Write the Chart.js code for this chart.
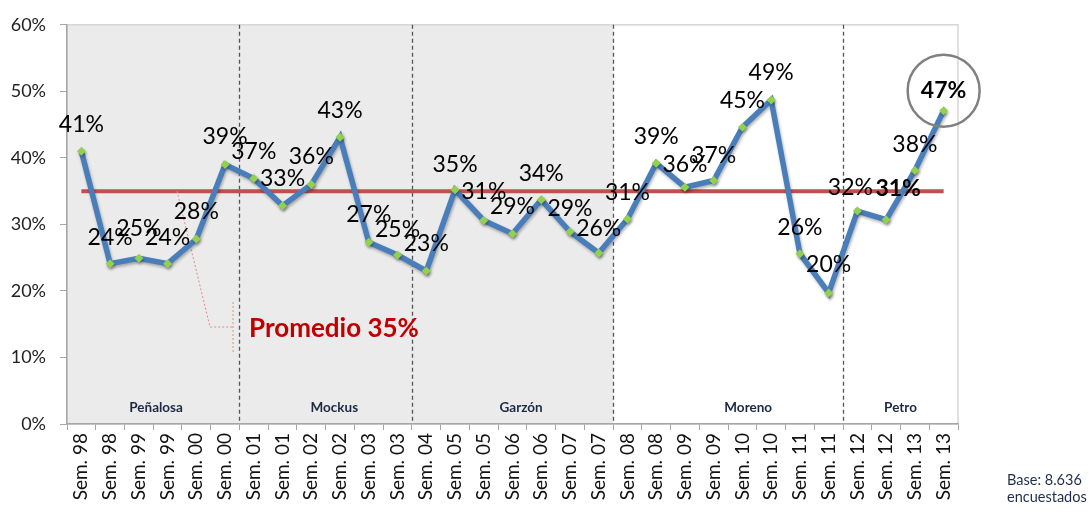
<!DOCTYPE html>
<html>
<head>
<meta charset="utf-8">
<script src="https://cdn.jsdelivr.net/npm/chart.js@4/dist/chart.umd.min.js"></script>
<style>
body{margin:0;background:#fff}
</style>
</head>
<body>
<canvas id="grafico" width="1089" height="512"></canvas>
<script>
// datos
const semestres = ["Sem. 98","Sem. 98","Sem. 99","Sem. 99","Sem. 00","Sem. 00","Sem. 01","Sem. 01","Sem. 02","Sem. 02","Sem. 03","Sem. 03","Sem. 04","Sem. 05","Sem. 05","Sem. 06","Sem. 06","Sem. 07","Sem. 07","Sem. 08","Sem. 08","Sem. 09","Sem. 09","Sem. 10","Sem. 10","Sem. 11","Sem. 11","Sem. 12","Sem. 12","Sem. 13","Sem. 13"]
const valores = [41.0,24.1,24.9,24.1,27.8,39.0,36.9,32.8,36.0,43.1,27.3,25.4,23.0,35.2,30.6,28.6,33.7,28.9,25.7,30.8,39.2,35.6,36.6,44.6,48.7,25.6,19.7,32.0,30.7,38.1,47.1]
const promedio = 35
const alcaldes = ["Peñalosa","Mockus","Garzón","Moreno","Petro"]
const inicioPeriodo = [0,6,12,19,27]
const ticksY = [0,10,20,30,40,50,60]

// posicion de etiquetas (pixeles respecto al punto)
const etqDy = [-27,-26,-30,-26,-27,-28,-27,-27,-28,-27,-28,-25,-27,-25,-29,-27,-26,-23,-24,-26,-27,-23,-25,-27,-27,-26,-28,-24,-31,-26,-20]
const etqDx = {27:-7, 28:12}
const etqNegrita = [28,30]
const centroNombre = [2.6,8.8,15.3,23.2,28.5]

const fuente = "Lato, 'Open Sans', sans-serif"

const decoracion = {
  id:"decoracion",
  beforeDraw(chart){
    const {ctx, chartArea:a, scales:{x}} = chart
    const paso = x.getPixelForValue(1) - x.getPixelForValue(0)
    const borde = i => x.getPixelForValue(i) - paso/2
    ctx.save()
    ctx.fillStyle = "#ebebeb"
    ctx.fillRect(a.left, a.top, borde(inicioPeriodo[3]) - a.left, a.bottom - a.top)
    ctx.strokeStyle = "#d6d6d6"
    ctx.lineWidth = 1.5
    ctx.strokeRect(a.left, a.top, a.right - a.left, a.bottom - a.top)

    /* lineas entre alcaldes */
    ctx.setLineDash([4,3])
    ctx.strokeStyle = "#555"
    ctx.lineWidth = 1.3
    inicioPeriodo.slice(1).forEach(i=>{
      const px = Math.round(borde(i)) + 0.5
      ctx.beginPath()
      ctx.moveTo(px, a.top)
      ctx.lineTo(px, a.bottom)
      ctx.stroke()
    })
    ctx.setLineDash([])

    ctx.fillStyle = "#1c2844"
    ctx.font = "bold 13.5px " + fuente
    ctx.textAlign = "center"
    ctx.textBaseline = "middle"
    alcaldes.forEach((n,k)=>{
      ctx.fillText(n, x.getPixelForValue(0) + paso*centroNombre[k], a.bottom - 16)
    })
    ctx.restore()
  },
  beforeDatasetsDraw(chart){
    const {ctx, scales:{x,y}} = chart
    const yp = y.getPixelForValue(promedio)
    ctx.save()
    ctx.strokeStyle = "#c0504d"
    ctx.lineWidth = 4
    ctx.beginPath()
    ctx.moveTo(x.getPixelForValue(0), yp)
    ctx.lineTo(x.getPixelForValue(semestres.length-1), yp)
    ctx.stroke()

    /* guia del promedio */
    ctx.strokeStyle = "#e58a8c"
    ctx.lineWidth = 1
    ctx.setLineDash([2,2])
    ctx.beginPath()
    ctx.moveTo(177, yp)
    ctx.lineTo(210, 327)
    ctx.lineTo(233, 327)
    ctx.moveTo(233, 302)
    ctx.lineTo(233, 353)
    ctx.stroke()
    ctx.restore()
  },
  beforeDatasetDraw(chart){
    const ctx = chart.ctx
    ctx.save()
    ctx.shadowColor = "rgba(0,0,0,0.3)"
    ctx.shadowBlur = 3
    ctx.shadowOffsetX = 1
    ctx.shadowOffsetY = 2
  },
  afterDatasetDraw(chart){
    chart.ctx.restore()
  },
  afterDatasetsDraw(chart){
    const {ctx} = chart
    const meta = chart.getDatasetMeta(0)
    ctx.save()
    ctx.fillStyle = "#000"
    ctx.textAlign = "center"
    ctx.textBaseline = "middle"
    meta.data.forEach((p,i)=>{
      ctx.font = (etqNegrita.includes(i) ? "bold " : "") + "23px " + fuente
      ctx.fillText(Math.round(valores[i]) + "%", p.x + (etqDx[i]||0), p.y + etqDy[i])
    })

    const ult = meta.data.length - 1
    const p = meta.data[ult]
    ctx.strokeStyle = "#808080"
    ctx.lineWidth = 2.5
    ctx.beginPath()
    ctx.arc(p.x, p.y + etqDy[ult], 36, 0, Math.PI*2)
    ctx.stroke()

    ctx.fillStyle = "#c00000"
    ctx.font = "bold 26px " + fuente
    ctx.textAlign = "left"
    ctx.fillText("Promedio " + promedio + "%", 249, 329)

    ctx.fillStyle = "#1f2d4d"
    ctx.font = "14.5px " + fuente
    ctx.fillText("Base: 8.636", 1007, 480)
    ctx.fillText("encuestados", 1007, 497)
    ctx.restore()
  }
}

new Chart(document.getElementById("grafico"),{
  type:"line",
  data:{
    labels:semestres,
    datasets:[{
      data:valores,
      borderColor:"#4a7ebb",
      borderWidth:5.5,
      tension:0,
      pointStyle:"rectRot",
      pointRadius:4.5,
      pointBackgroundColor:"#92d050",
      pointBorderWidth:0
    }]
  },
  options:{
    responsive:false,
    animation:false,
    layout:{padding:{top:21,right:131,left:0,bottom:0}},
    plugins:{legend:{display:false},tooltip:{enabled:false}},
    scales:{
      x:{
        offset:true,
        afterFit(s){ s.height = 88 },
        grid:{offset:true,drawOnChartArea:false,tickLength:6,color:"#a6a6a6"},
        border:{color:"#a6a6a6",width:1.5},
        ticks:{autoSkip:false,maxRotation:90,minRotation:90,padding:3,color:"#111",font:{family:fuente,size:19}}
      },
      y:{
        min:ticksY[0],
        max:ticksY[ticksY.length-1],
        afterFit(s){ s.width = 67 },
        grid:{drawOnChartArea:false,tickLength:7,color:"#a6a6a6"},
        border:{color:"#a6a6a6",width:1.5},
        ticks:{stepSize:ticksY[1]-ticksY[0],padding:14,color:"#222",font:{family:fuente,size:18},callback:v=>v+"%"}
      }
    }
  },
  plugins:[decoracion]
})
</script>
</body>
</html>
